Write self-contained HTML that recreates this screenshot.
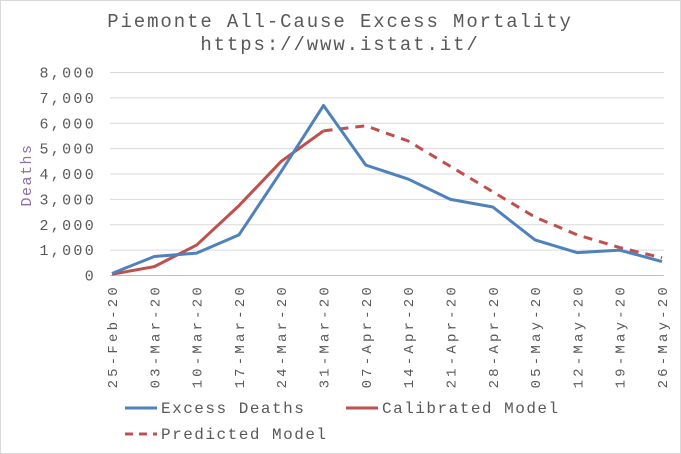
<!DOCTYPE html>
<html><head><meta charset="utf-8"><style>
body{margin:0;background:#fff}
svg{display:block;font-family:"Liberation Mono",monospace}
</style></head><body>
<svg width="681" height="454">
<rect x="0.5" y="0.5" width="680" height="453" fill="#fff" stroke="#d9d9d9"/>
<text x="340" y="27" text-anchor="middle" font-size="19" letter-spacing="1.9" fill="#595959">Piemonte All-Cause Excess Mortality</text>
<text x="340" y="50" text-anchor="middle" font-size="19" letter-spacing="1.9" fill="#595959">https://www.istat.it/</text>
<text transform="translate(31,175) rotate(-90)" text-anchor="middle" font-size="15" letter-spacing="1.5" fill="#8e6fa0">Deaths</text>
<g id="grid"></g><g id="ylab"></g><g id="xlab"></g><g id="series"></g>
<g>
<line x1="125" y1="408" x2="157" y2="408" stroke="#4f81bd" stroke-width="3"/>
<text x="161" y="413" font-size="16" letter-spacing="1.5" fill="#595959">Excess Deaths</text>
<line x1="346" y1="408" x2="378" y2="408" stroke="#c0504d" stroke-width="3"/>
<text x="382" y="413" font-size="16" letter-spacing="1.5" fill="#595959">Calibrated Model</text>
<line x1="125" y1="434" x2="157" y2="434" stroke="#c0504d" stroke-width="3" stroke-dasharray="8,6"/>
<text x="161" y="439" font-size="16" letter-spacing="1.5" fill="#595959">Predicted Model</text>
</g>
</svg>
<script>
const categories=["25-Feb-20","03-Mar-20","10-Mar-20","17-Mar-20","24-Mar-20","31-Mar-20","07-Apr-20","14-Apr-20","21-Apr-20","28-Apr-20","05-May-20","12-May-20","19-May-20","26-May-20"];
const excessDeaths=[80,750,880,1600,4100,6700,4350,3800,3000,2700,1400,900,1000,550];
const calibratedModel=[50,350,1200,2750,4500,5700,null,null,null,null,null,null,null,null];
const predictedModel=[null,null,null,null,null,5700,5900,5300,4300,3300,2300,1600,1100,700];
const yTicks=[0,1000,2000,3000,4000,5000,6000,7000,8000];
const yTickLabels=["0","1,000","2,000","3,000","4,000","5,000","6,000","7,000","8,000"];
const NS="http://www.w3.org/2000/svg";
const x0=112,x1=662,yb=275.5,yt=72.5;
const xs=i=>x0+i*(x1-x0)/(categories.length-1);
const ys=v=>yb-(v/8000)*(yb-yt);
function mk(t,a,p){const e=document.createElementNS(NS,t);for(const k in a)e.setAttribute(k,a[k]);p.appendChild(e);return e;}
const grid=document.getElementById('grid'),ylab=document.getElementById('ylab'),xlab=document.getElementById('xlab'),ser=document.getElementById('series');
yTicks.forEach((v,i)=>{
 const l=mk('line',{x1:x0-2,x2:x1+2,y1:ys(v),y2:ys(v),stroke:i===0?'#bfbfbf':'#d9d9d9','stroke-width':1},grid);
 
 
 const t=mk('text',{x:96,y:ys(v)+5,'text-anchor':'end','font-size':15,'letter-spacing':2.3,fill:'#595959'},ylab);
 t.textContent=yTickLabels[i];
 
 
});
categories.forEach((c,i)=>{
 const t=mk('text',{transform:`translate(${xs(i)+5},284) rotate(-90)`,'text-anchor':'end','font-size':14,'letter-spacing':3.2,fill:'#595959'},xlab);
 t.textContent=c;
 
 
});
function line(arr,color,dash,name){
 const pts=[];arr.forEach((v,i)=>{if(v!==null)pts.push(xs(i)+','+ys(v));});
 const p=mk('polyline',{points:pts.join(' '),fill:'none',stroke:color,'stroke-width':3,'stroke-linejoin':'round'},ser);
 if(dash)p.setAttribute('stroke-dasharray',dash);
 
 
}
line(predictedModel,'#c0504d','9,7','predicted-model-line');
line(calibratedModel,'#c0504d',null,'calibrated-model-line');
line(excessDeaths,'#4f81bd',null,'excess-deaths-line');
</script>
</body></html>
